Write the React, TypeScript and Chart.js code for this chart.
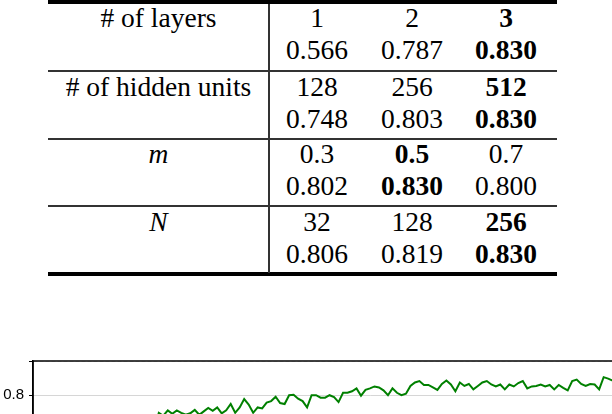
import React, { useEffect, useRef } from 'react';
import { Chart, registerables } from 'chart.js';

Chart.register(...registerables);

// ---- table content ----
const paramNames = ['# of layers', '# of hidden units', 'm', 'N'];
const paramIsMath = [false, false, true, true];
const settingLabels = [
    ['1', '2', '3'],
    ['128', '256', '512'],
    ['0.3', '0.5', '0.7'],
    ['32', '128', '256'],
];
const settingScores = [
    [0.566, 0.787, 0.830],
    [0.748, 0.803, 0.830],
    [0.802, 0.830, 0.800],
    [0.806, 0.819, 0.830],
];
const bestIndex = [2, 2, 1, 2];

// ---- curve below the table (only its top strip is in view) ----
const FIRST_EPOCH = 27;
const accuracy = [
    0.730,
    0.764, 0.758, 0.769, 0.762, 0.769, 0.764, 0.760, 0.763, 0.770, 0.760,
    0.767, 0.774, 0.768, 0.775, 0.763, 0.769, 0.782, 0.764, 0.775, 0.792,
    0.781, 0.764, 0.775, 0.773, 0.785, 0.788, 0.797, 0.784, 0.782, 0.800,
    0.801, 0.793, 0.788, 0.775, 0.800, 0.800, 0.795, 0.795, 0.800, 0.796,
    0.786, 0.805, 0.805, 0.808, 0.814, 0.799, 0.811, 0.814, 0.818, 0.816,
    0.810, 0.800, 0.814, 0.805, 0.800, 0.803, 0.819, 0.826, 0.829, 0.821,
    0.821, 0.816, 0.811, 0.823, 0.830, 0.822, 0.808, 0.826, 0.819, 0.823,
    0.812, 0.819, 0.826, 0.829, 0.822, 0.818, 0.822, 0.812, 0.822, 0.818,
    0.825, 0.829, 0.814, 0.818, 0.819, 0.822, 0.818, 0.821, 0.812, 0.821,
    0.815, 0.810, 0.829, 0.832, 0.823, 0.819, 0.823, 0.822, 0.812, 0.837,
    0.834, 0.830,
];
const yTickLabels = ['0.8'];

const SERIF = '"Liberation Serif", "Times New Roman", Times, serif';
const FONT_PX = 27.5;

// centre line of the rule above each block
const blockTops = [3, 71.3, 138.8, 206.3];
const rowBaselines = [24.7, 56.7];
const valueCenters = [317, 412, 506];
const LABEL_CENTER = 158.5;

const Cell: React.FC<{ x: number; baseline: number; bold?: boolean; italic?: boolean; children: React.ReactNode }> = ({ x, baseline, bold, italic, children }) => (
    <div
        style={{
            position: 'absolute',
            left: x - 120,
            width: 240,
            top: baseline - (15 + (0.891 - 1.107 / 2) * FONT_PX),
            lineHeight: '30px',
            fontSize: FONT_PX,
            fontFamily: SERIF,
            fontWeight: bold ? 'bold' : 'normal',
            fontStyle: italic ? 'italic' : 'normal',
            textAlign: 'center',
            color: '#000',
            whiteSpace: 'nowrap',
        }}
    >
        {children}
    </div>
);

const frame = {
    id: 'frame',
    afterDraw(chart: Chart) {
        const { ctx, chartArea } = chart;
        ctx.save();
        ctx.strokeStyle = '#000';
        ctx.lineWidth = 1.5;
        ctx.strokeRect(chartArea.left, chartArea.top, chartArea.right - chartArea.left, chartArea.bottom - chartArea.top);
        ctx.restore();
    },
};

const isTenth = (v: number) => Math.abs(v * 10 - Math.round(v * 10)) < 1e-6;

const App: React.FC = () => {
    const chartRef = useRef<HTMLCanvasElement>(null);
    const chartInstanceRef = useRef<Chart | null>(null);

    useEffect(() => {
        if (!chartRef.current) return;
        chartInstanceRef.current?.destroy();
        chartInstanceRef.current = new Chart(chartRef.current, {
            type: 'line',
            data: {
                datasets: [{
                    data: accuracy.map((y, i) => ({ x: FIRST_EPOCH + i, y })),
                    borderColor: '#008000',
                    borderWidth: 2,
                    pointRadius: 0,
                    tension: 0,
                    fill: false,
                }],
            },
            options: {
                animation: false,
                responsive: true,
                maintainAspectRatio: false,
                layout: { padding: { top: 16, bottom: 16, left: 0, right: 0 } },
                plugins: { legend: { display: false }, tooltip: { enabled: false } },
                scales: {
                    x: { type: 'linear', display: false, min: 0, max: 150 },
                    y: {
                        min: 0.69,
                        max: 0.87,
                        afterFit: (scale: any) => { scale.width = 33; },
                        ticks: {
                            stepSize: 0.025,
                            padding: 5,
                            color: '#000',
                            font: { family: '"Liberation Sans", Arial, sans-serif', size: 15 },
                            callback: (value: any) => {
                                const label = Number(value).toFixed(1);
                                return isTenth(Number(value)) && yTickLabels.includes(label) ? label : '';
                            },
                        },
                        grid: {
                            tickLength: 4,
                            tickColor: '#000',
                            color: (ctx: any) => (ctx.tick && isTenth(ctx.tick.value) ? '#d6d6d6' : '#e2e2e2'),
                            lineWidth: 1,
                        },
                        border: {
                            display: true,
                            color: '#000',
                            width: 1.5,
                            dash: (ctx: any) => (ctx.tick && !isTenth(ctx.tick.value) ? [4, 2] : []),
                        },
                    },
                },
            },
            plugins: [frame],
        });
        return () => {
            chartInstanceRef.current?.destroy();
            chartInstanceRef.current = null;
        };
    }, []);

    return (
        <div style={{ position: 'absolute', left: 0, top: 0, width: 612, height: 414, overflow: 'hidden', background: '#fff' }}>
            {/* rules */}
            <div style={{ position: 'absolute', left: 48, width: 509, top: 0, height: 3.8, background: '#000' }} />
            {blockTops.slice(1).map((y) => (
                <div key={y} style={{ position: 'absolute', left: 48, width: 509, top: y - 1.2, height: 2.4, background: '#333' }} />
            ))}
            <div style={{ position: 'absolute', left: 48, width: 509, top: 272, height: 3.6, background: '#000' }} />
            <div style={{ position: 'absolute', left: 268.3, width: 1.6, top: 3.5, height: 269, background: '#333' }} />

            {/* cells */}
            {paramNames.map((name, b) => (
                <React.Fragment key={name}>
                    <Cell x={LABEL_CENTER} baseline={blockTops[b] + rowBaselines[0]} italic={paramIsMath[b]}>{name}</Cell>
                    {settingLabels[b].map((s, c) => (
                        <Cell key={'s' + c} x={valueCenters[c]} baseline={blockTops[b] + rowBaselines[0]} bold={c === bestIndex[b]}>{s}</Cell>
                    ))}
                    {settingScores[b].map((v, c) => (
                        <Cell key={'v' + c} x={valueCenters[c]} baseline={blockTops[b] + rowBaselines[1]} bold={c === bestIndex[b]}>{v.toFixed(3)}</Cell>
                    ))}
                </React.Fragment>
            ))}

            {/* chart */}
            <div style={{ position: 'absolute', left: 0, top: 345, width: 707, height: 120 }}>
                <canvas ref={chartRef}></canvas>
            </div>
        </div>
    );
};

export default App;
